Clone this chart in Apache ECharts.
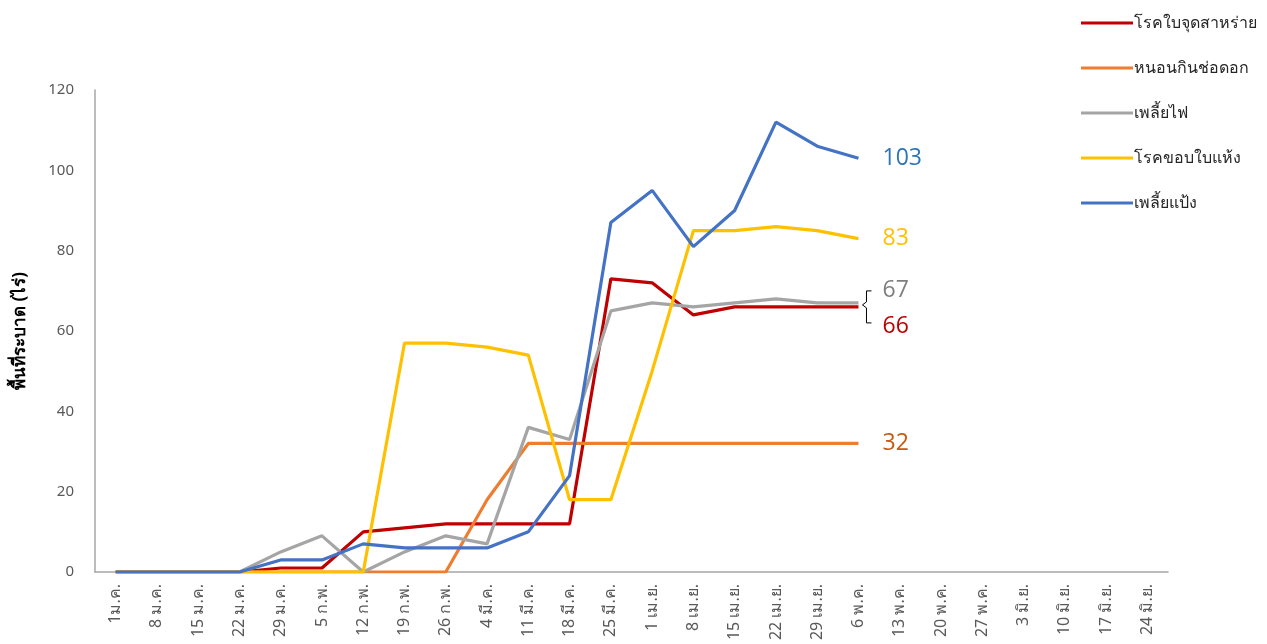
<!DOCTYPE html>
<html>
<head>
<meta charset="utf-8">
<script src="https://cdn.jsdelivr.net/npm/echarts@6/dist/echarts.min.js"></script>
<style>
html,body{margin:0;padding:0;background:#fff}
#main{width:1267px;height:644px}
</style>
</head>
<body>
<div id="main"></div>
<script>
// หมวดหมู่ (สัปดาห์)
var weeks = ['1ม.ค.','8 ม.ค.','15 ม.ค.','22 ม.ค.','29 ม.ค.','5 ก.พ.','12 ก.พ.','19 ก.พ.','26 ก.พ.',
    '4 มี.ค.','11 มี.ค.','18 มี.ค.','25 มี.ค.','1 เม.ย.','8 เม.ย.','15 เม.ย.','22 เม.ย.','29 เม.ย.',
    '6 พ.ค.','13 พ.ค.','20 พ.ค.','27 พ.ค.','3 มิ.ย.','10 มิ.ย.','17 มิ.ย.','24 มิ.ย.'];

var names = ['โรคใบจุดสาหร่าย','หนอนกินช่อดอก','เพลี้ยไฟ','โรคขอบใบแห้ง','เพลี้ยแป้ง'];

var algalSpot  = [0,0,0,0,1,1,10,11,12,12,12,12,73,72,64,66,66,66,66];
var borer      = [0,0,0,0,0,0,0,0,0,18,32,32,32,32,32,32,32,32,32];
var thrips     = [0,0,0,0,5,9,0,5,9,7,36,33,65,67,66,67,68,67,67];
var leafBlight = [0,0,0,0,0,0,0,57,57,56,54,18,18,50,85,85,86,85,83];
var mealybug   = [0,0,0,0,3,3,7,6,6,6,10,24,87,95,81,90,112,106,103];

var yTicks = [0,20,40,60,80,100,120];

var lineColors  = ['#C00000','#ED7D31','#A5A5A5','#FFC000','#4472C4'];
var labelColors = ['#C00000','#C55A11','#7F7F7F','#FFC000','#2E75B6'];
var labelOffset = [[0,20],[0,0],[0,-12],[0,0],[0,0]];

var myChart = echarts.init(document.getElementById('main'));

function makeSeries(i, data){
    return {
        name: names[i],
        type: 'line',
        data: data,
        symbol: 'none',
        lineStyle: {width: 3.2, color: lineColors[i]},
        itemStyle: {color: lineColors[i]},
        endLabel: {
            show: true,
            formatter: '{c}',
            color: labelColors[i],
            fontFamily: 'Open Sans',
            fontSize: 23,
            distance: 24,
            offset: labelOffset[i]
        },
        z: 2 + i
    };
}

var option = {
    animation: false,
    textStyle: {fontFamily: 'Noto Sans'},
    grid: {left: 95, top: 90, right: 99, bottom: 72, containLabel: false},
    legend: {
        orient: 'vertical',
        left: 1076,
        top: 10,
        itemWidth: 52,
        itemHeight: 3,
        itemGap: 29,
        icon: 'rect',
        data: names,
        textStyle: {fontSize: 16, color: '#262626', padding: [0,0,0,-4]}
    },
    xAxis: {
        type: 'category',
        data: weeks,
        boundaryGap: true,
        axisLine: {lineStyle: {color: '#A6A6A6', width: 1.5}},
        axisTick: {show: false},
        axisLabel: {rotate: 90, interval: 0, color: '#595959', fontSize: 16, margin: 12}
    },
    yAxis: {
        type: 'value',
        min: yTicks[0],
        max: yTicks[yTicks.length - 1],
        interval: 20,
        name: 'พื้นที่ระบาด (ไร่)',
        nameLocation: 'middle',
        nameGap: 66,
        nameTextStyle: {fontSize: 17, fontWeight: 'bold', color: '#000'},
        axisLine: {show: true, lineStyle: {color: '#A6A6A6', width: 1.5}},
        axisTick: {show: false},
        splitLine: {show: false},
        axisLabel: {color: '#595959', fontSize: 15, margin: 21}
    },
    series: [
        makeSeries(0, algalSpot),
        makeSeries(1, borer),
        makeSeries(2, thrips),
        makeSeries(3, leafBlight),
        makeSeries(4, mealybug)
    ]
};
myChart.setOption(option);

// วงเล็บเชื่อมป้าย 67 / 66
var last = thrips.length - 1;
var p = myChart.convertToPixel({seriesIndex: 2}, [last, (thrips[last] + algalSpot[last]) / 2]);
var x0 = p[0] + 2, y0 = p[1];
myChart.setOption({
    graphic: [{
        type: 'polyline',
        shape: {points: [[x0+11,y0-14],[x0+6,y0-14],[x0+6,y0-3],[x0+2,y0],[x0+6,y0+3],[x0+6,y0+18],[x0+11,y0+18]]},
        style: {stroke: '#000', lineWidth: 1, fill: null}
    }]
});
</script>
</body>
</html>
